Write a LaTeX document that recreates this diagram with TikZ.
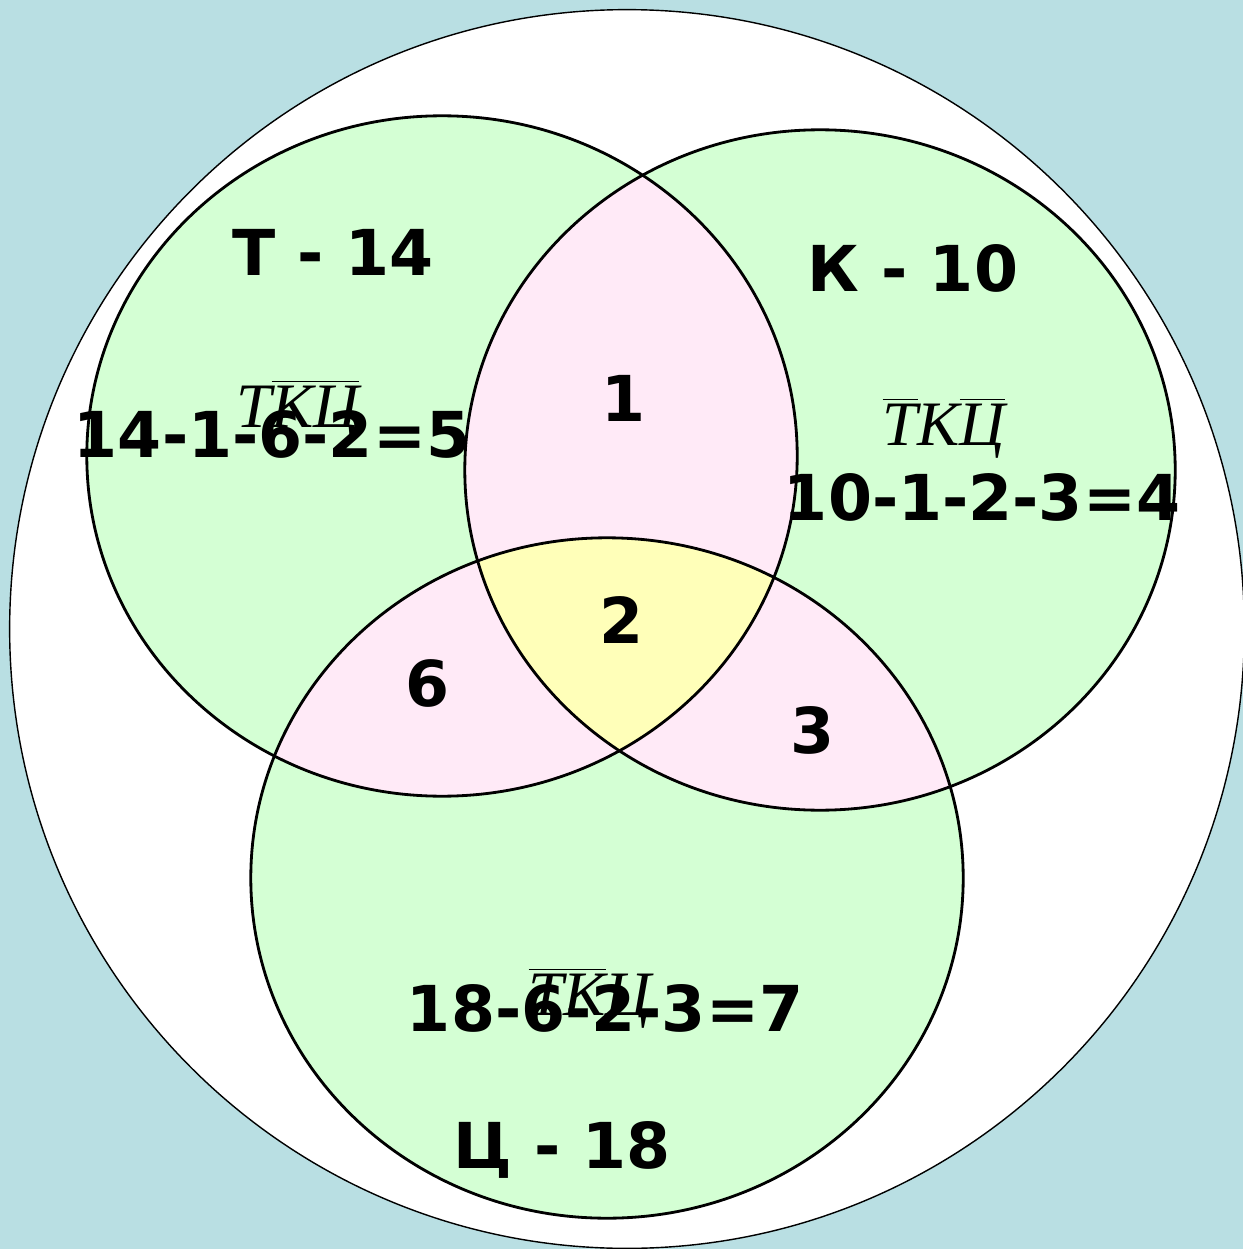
\documentclass[tikz,border=0pt]{standalone}
\usepackage{fontspec}
\setmainfont{DejaVu Sans}
\newfontfamily\formfont{Liberation Serif}
\usetikzlibrary{positioning}

\definecolor{bgblue}{RGB}{185,223,227}
\definecolor{setgreen}{RGB}{212,255,212}
\definecolor{pairpink}{RGB}{255,234,247}
\definecolor{allyellow}{RGB}{255,255,185}

\newcommand{\nb}[1]{$\overline{\mbox{#1}}$}

\begin{document}
\begin{tikzpicture}[x=0.01cm,y=-0.01cm,thick]
  \tikzstyle{count}=[font=\fontsize{18pt}{21pt}\selectfont\bfseries, inner sep=0pt]
  \tikzstyle{formula}=[font=\fontsize{18pt}{21pt}\selectfont\formfont\itshape, inner sep=0pt]

  \useasboundingbox (0,0) rectangle (1243,1249);
  \fill[bgblue] (0,0) rectangle (1243,1249);

  % universe
  \coordinate (u) at (627,629);
  \filldraw[fill=white, draw=black, thin] (u) ellipse [x radius=6.17cm, y radius=6.19cm];

  % the three sets
  \coordinate (t) at (442,456);
  \coordinate (k) at (820,470);
  \coordinate (c) at (607,878);
  \fill[setgreen] (t) ellipse [x radius=3.55cm, y radius=3.40cm];
  \fill[setgreen] (k) ellipse [x radius=3.55cm, y radius=3.40cm];
  \fill[setgreen] (c) ellipse [x radius=3.56cm, y radius=3.40cm];

  \begin{scope}
    \clip (t) ellipse [x radius=3.55cm, y radius=3.40cm];
    \fill[pairpink] (k) ellipse [x radius=3.55cm, y radius=3.40cm];
    \fill[pairpink] (c) ellipse [x radius=3.56cm, y radius=3.40cm];
  \end{scope}
  \begin{scope}
    \clip (k) ellipse [x radius=3.55cm, y radius=3.40cm];
    \fill[pairpink] (c) ellipse [x radius=3.56cm, y radius=3.40cm];
    \clip (c) ellipse [x radius=3.56cm, y radius=3.40cm];
    \fill[allyellow] (t) ellipse [x radius=3.55cm, y radius=3.40cm];
  \end{scope}

  \draw (t) ellipse [x radius=3.55cm, y radius=3.40cm];
  \draw (k) ellipse [x radius=3.55cm, y radius=3.40cm];
  \draw (c) ellipse [x radius=3.56cm, y radius=3.40cm];

  \node[count] (tname) at (333,252) {Т - 14};
  \node[count] (kname) at (913,268) {К - 10};
  \node[count] (cname) at (562,1150) {Ц - 18};

  \node[count] (tkc) at (622,620) {2};
  \node[count] (tk) at (624,398) {1};
  \node[count] (tc) at (428,683) {6};
  \node[count] (kc) at (813,730) {3};

  \node[formula] (tonly) at (298,410) {T\nb{К}\nb{Ц}};
  \node[formula] (konly) at (944,428) {\nb{T}К\nb{Ц}};
  \node[formula] (conly) at (590,998) {\nb{T}\nb{К}Ц};

  \node[count] (tsum) at (272,434) {14-1-6-2=5};
  \node[count] (ksum) at (982,497) {10-1-2-3=4};
  \node[count] (csum) at (605,1008) {18-6-2-3=7};
\end{tikzpicture}
\end{document}
